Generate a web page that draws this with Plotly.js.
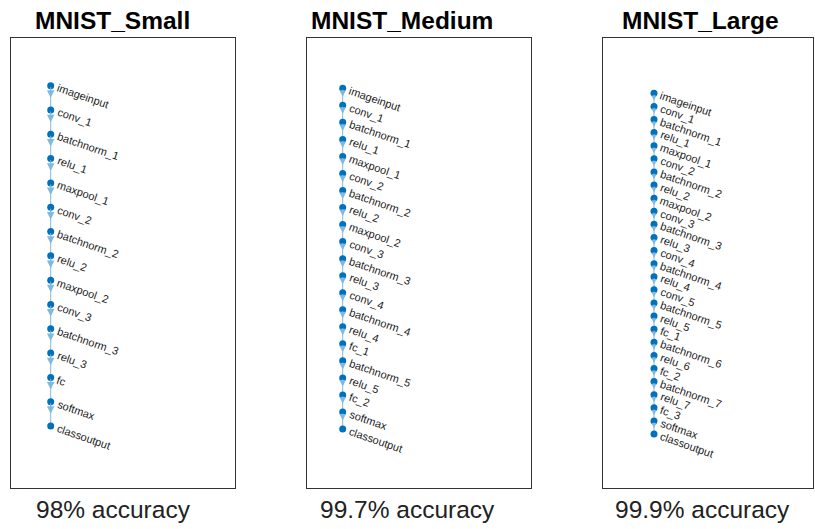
<!DOCTYPE html>
<html><head><meta charset="utf-8">
<script src="https://cdn.plot.ly/plotly-3.0.1.min.js"></script>
<style>html,body{margin:0;padding:0;background:#fff}#chart{width:815px;height:529px}</style>
</head><body><div id="chart"></div><script>
// ---- data ----
const smallLayers = ["imageinput","conv_1","batchnorm_1","relu_1","maxpool_1","conv_2","batchnorm_2","relu_2","maxpool_2","conv_3","batchnorm_3","relu_3","fc","softmax","classoutput"];
const mediumLayers = ["imageinput","conv_1","batchnorm_1","relu_1","maxpool_1","conv_2","batchnorm_2","relu_2","maxpool_2","conv_3","batchnorm_3","relu_3","conv_4","batchnorm_4","relu_4","fc_1","batchnorm_5","relu_5","fc_2","softmax","classoutput"];
const largeLayers = ["imageinput","conv_1","batchnorm_1","relu_1","maxpool_1","conv_2","batchnorm_2","relu_2","maxpool_2","conv_3","batchnorm_3","relu_3","conv_4","batchnorm_4","relu_4","conv_5","batchnorm_5","relu_5","fc_1","batchnorm_6","relu_6","fc_2","batchnorm_7","relu_7","fc_3","softmax","classoutput"];
const panelTitles = ["MNIST_Small","MNIST_Medium","MNIST_Large"];
const accuracyLabels = ["98% accuracy","99.7% accuracy","99.9% accuracy"];

// ---- layout geometry (pixels) ----
const W = 815, H = 529;
const boxTop = 37.5, boxBottom = 488;
const panels = [
  {layers: smallLayers,  box: [10.5, 235],  nodeX: 50.7,  firstY: 85.7, lastY: 426, titleX: 112, accX: 113, arrowSize: 1.5, arrowPos: 0.5},
  {layers: mediumLayers, box: [306.7, 531], nodeX: 342.7, firstY: 88.3, lastY: 429, titleX: 402, accX: 407, arrowSize: 1.3, arrowPos: 0.5},
  {layers: largeLayers,  box: [602.7, 813], nodeX: 654,   firstY: 93.3, lastY: 434, titleX: 700, accX: 702, arrowSize: 1.0, arrowPos: 0.55}
];
const nodeColor = '#0072BD';
const edgeColor = 'rgb(128,184,222)';
const FONT = '"Liberation Sans", Arial, Helvetica, sans-serif';

const traces = [];
const annotations = [];
const layout = {
  width: W, height: H, margin: {l: 0, r: 0, t: 0, b: 0},
  paper_bgcolor: '#fff', plot_bgcolor: '#fff', showlegend: false,
  font: {family: FONT, color: '#222'}
};

panels.forEach((p, k) => {
  const sfx = k === 0 ? '' : String(k + 1);
  const xr = 'x' + sfx, yr = 'y' + sfx;
  const n = p.layers.length;
  const xs = p.layers.map(() => 0);
  const ys = p.layers.map((_, i) => -i);
  // edges
  traces.push({type: 'scatter', mode: 'lines', x: xs, y: ys, xaxis: xr, yaxis: yr,
    line: {color: edgeColor, width: 1}, hoverinfo: 'skip'});
  // nodes
  traces.push({type: 'scatter', mode: 'markers', x: xs, y: ys, xaxis: xr, yaxis: yr,
    marker: {color: nodeColor, size: 7}, text: p.layers, hoverinfo: 'text'});
  // axes
  const bw = p.box[1] - p.box[0];
  const frac = (p.nodeX - p.box[0]) / bw;
  const s = (p.lastY - p.firstY) / (n - 1);
  const hi = (p.firstY - boxTop) / s;
  const lo = hi - (boxBottom - boxTop) / s;
  const axCommon = {showgrid: false, zeroline: false, showticklabels: false, ticks: '',
    showline: true, mirror: true, linecolor: '#333', linewidth: 1, fixedrange: true};
  layout['xaxis' + sfx] = Object.assign({domain: [p.box[0] / W, p.box[1] / W], range: [-frac, 1 - frac], anchor: yr}, axCommon);
  layout['yaxis' + sfx] = Object.assign({domain: [(H - boxBottom) / H, (H - boxTop) / H], range: [lo, hi], anchor: xr}, axCommon);
  // arrowheads
  for (let i = 0; i < n - 1; i++) {
    annotations.push({xref: xr, yref: yr, axref: xr, ayref: yr, x: 0, y: -(i + p.arrowPos), ax: 0, ay: -i,
      text: '', showarrow: true, arrowhead: 2, arrowsize: p.arrowSize, arrowwidth: 1, arrowcolor: edgeColor, standoff: 0});
  }
  // labels
  p.layers.forEach((name, i) => {
    annotations.push({xref: xr, yref: yr, x: 0, y: -i, text: name, showarrow: false,
      textangle: 19, xanchor: 'left', yanchor: 'top', xshift: 5, yshift: 4,
      borderpad: 0, borderwidth: 0, font: {size: 11, color: '#1a1a1a', family: FONT}});
  });
  // title
  annotations.push({xref: 'paper', yref: 'paper', x: p.titleX / W, y: 1 - 20 / H, text: '<b>' + panelTitles[k] + '</b>',
    showarrow: false, xanchor: 'center', yanchor: 'middle', font: {size: 24.5, color: '#000', family: FONT}});
  // accuracy
  annotations.push({xref: 'paper', yref: 'paper', x: p.accX / W, y: 1 - 509 / H, text: accuracyLabels[k],
    showarrow: false, xanchor: 'center', yanchor: 'middle', font: {size: 24.5, color: '#222', family: FONT}});
});
layout.annotations = annotations;

Plotly.newPlot('chart', traces, layout, {displayModeBar: false, staticPlot: true});
</script></body></html>
